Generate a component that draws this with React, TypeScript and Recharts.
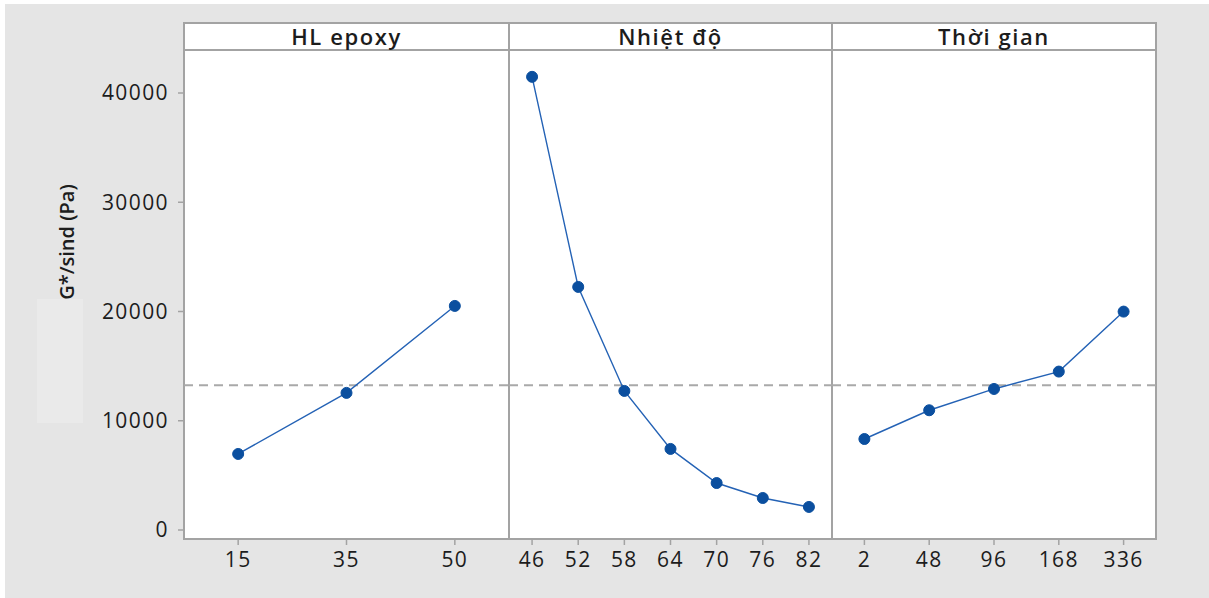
import { LineChart, Line, XAxis, YAxis, ReferenceLine } from "recharts";

// factor levels and mean responses
const hlEpoxyLevels = ["15", "35", "50"];
const hlEpoxyMeans = [6960, 12550, 20510];

const nhietDoLevels = ["46", "52", "58", "64", "70", "76", "82"];
const nhietDoMeans = [41480, 22250, 12730, 7420, 4300, 2930, 2110];

const thoiGianLevels = ["2", "48", "96", "168", "336"];
const thoiGianMeans = [8330, 10960, 12910, 14500, 19990];

const yTicks = [0, 10000, 20000, 30000, 40000];
const Y_DOMAIN: [number, number] = [-824, 43936];
const GRAND_MEAN = 13250;

const FONT = "'Open Sans', 'Noto Sans', sans-serif";
const FRAME = "#a3a3a3";
const TEXT = "#1c1c1c";
const LINE_BLUE = "#2462b5";
const DOT_BLUE = "#0b4f9f";

const PLOT_TOP = 50;
const CHART_H = 560;

const toRows = (levels: string[], means: number[]) =>
  levels.map((level, i) => ({ level, mean: means[i] }));

const tickStyle = { fill: TEXT, fontSize: 21, fontFamily: FONT, letterSpacing: 1.4 };

function Panel({
  rows,
  left,
  width,
  showY,
}: {
  rows: { level: string; mean: number }[];
  left: number;
  width: number;
  showY?: boolean;
}) {
  return (
    <div style={{ position: "absolute", left, top: PLOT_TOP }}>
      <LineChart width={width} height={CHART_H} data={rows} margin={{ top: 0, right: 0, bottom: 0, left: 0 }}>
        <XAxis
          dataKey="level"
          type="category"
          scale="band"
          interval={0}
          height={71}
          axisLine={false}
          tickSize={6}
          tickMargin={7}
          tickLine={{ stroke: FRAME, strokeWidth: 1.5 }}
          tick={tickStyle}
        />
        <YAxis
          type="number"
          domain={Y_DOMAIN}
          ticks={yTicks}
          allowDataOverflow
          hide={!showY}
          width={94}
          axisLine={false}
          tickSize={6}
          tickMargin={9}
          tickLine={{ stroke: FRAME, strokeWidth: 1.5 }}
          tick={tickStyle}
        />
        <ReferenceLine y={GRAND_MEAN} stroke="#a9a9a9" strokeWidth={1.8} strokeDasharray="9 6" />
        <Line
          type="linear"
          dataKey="mean"
          stroke={LINE_BLUE}
          strokeWidth={1.4}
          dot={{ r: 5.5, fill: DOT_BLUE, stroke: DOT_BLUE, strokeWidth: 1 }}
          isAnimationActive={false}
        />
      </LineChart>
    </div>
  );
}

const headerStyle = (left: number, width: number): React.CSSProperties => ({
  position: "absolute",
  left,
  top: 23,
  width,
  height: 27,
  lineHeight: "27px",
  textAlign: "center",
  fontFamily: FONT,
  fontSize: 22,
  fontWeight: 600,
  letterSpacing: 1.6,
  color: TEXT,
});

export default function App() {
  return (
    <div style={{ position: "absolute", left: 0, top: 0, width: 1209, height: 598, background: "#ffffff", overflow: "hidden" }}>
      <div style={{ position: "absolute", left: 5, top: 4, right: 0, bottom: 0, background: "#e5e5e5" }} />
      <div style={{ position: "absolute", left: 37, top: 299, width: 46, height: 124, background: "#eaeaea" }} />

      {/* panel frames */}
      <div
        style={{
          position: "absolute",
          left: 183,
          top: 22,
          width: 974,
          height: 518,
          boxSizing: "border-box",
          border: `2px solid ${FRAME}`,
          background: "#ffffff",
        }}
      />
      <div style={{ position: "absolute", left: 184, top: 49, width: 972, height: 2, background: FRAME }} />
      <div style={{ position: "absolute", left: 508, top: 23, width: 2, height: 516, background: FRAME }} />
      <div style={{ position: "absolute", left: 831, top: 23, width: 2, height: 516, background: FRAME }} />

      <div style={headerStyle(184, 325)}>HL epoxy</div>
      <div style={headerStyle(509, 323)}>Nhiệt độ</div>
      <div style={headerStyle(832, 324)}>Thời gian</div>

      <div
        style={{
          position: "absolute",
          left: 66,
          top: 242,
          transform: "translate(-50%, -50%) rotate(-90deg)",
          whiteSpace: "nowrap",
          fontFamily: FONT,
          fontSize: 20,
          fontWeight: 600,
          color: TEXT,
        }}
      >
        G*/sind (Pa)
      </div>

      <Panel rows={toRows(hlEpoxyLevels, hlEpoxyMeans)} left={90} width={419} showY />
      <Panel rows={toRows(nhietDoLevels, nhietDoMeans)} left={509} width={323} />
      <Panel rows={toRows(thoiGianLevels, thoiGianMeans)} left={832} width={324} />
    </div>
  );
}
